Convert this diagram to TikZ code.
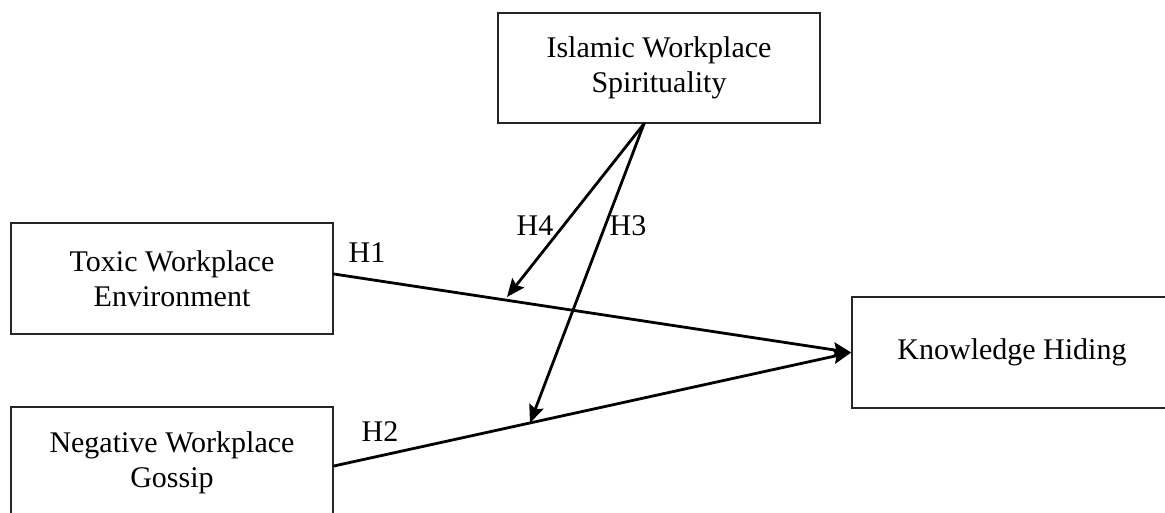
\documentclass[tikz,border=0pt]{standalone}
\usepackage{fontspec}
\setmainfont{Liberation Serif}
\usetikzlibrary{arrows.meta}
\tikzset{
  boxnode/.style={draw=black!85, line width=1.6pt, rectangle, align=center,
    font=\fontsize{30}{35}\selectfont, inner sep=0pt},
  hlabel/.style={font=\fontsize{30}{35}\selectfont, inner sep=0pt},
  conn/.style={line width=2.8pt, line cap=round},
  arr/.style={conn, -{Stealth[length=18pt,width=15pt,inset=3pt]}}
}
\begin{document}
\begin{tikzpicture}[x=1pt,y=-1pt]
\useasboundingbox (0,0) rectangle (1165,513);
\fill[white] (0,0) rectangle (1165,513);
\clip (0,0) rectangle (1165,513);
\node[boxnode, minimum width=322pt, minimum height=110pt] (isl) at (659,68) {Islamic Workplace\\Spirituality};
\node[boxnode, minimum width=322pt, minimum height=111pt] (tox) at (172,278.5) {Toxic Workplace\\Environment};
\node[boxnode, minimum width=322pt, minimum height=112pt] (neg) at (172,463) {Negative Workplace\\Gossip};
\node[boxnode, minimum width=320pt, minimum height=111pt] (kh) at (1012,352.5) {Knowledge Hiding};
\coordinate (src) at ([xshift=-15pt]isl.south);
\coordinate (t1) at ([yshift=4.5pt]tox.east);
\coordinate (t2) at ([yshift=-3pt]neg.east);
\coordinate (p4) at (507,297);
\coordinate (p3) at (530,423);
\draw[arr] (t1) -- (kh.west);
\draw[arr] (t2) -- (kh.west);
\draw[arr] (src) -- (p4);
\draw[arr] (src) -- (p3);
\node[hlabel] (h1) at (367,253) {H1};
\node[hlabel] (h2) at (380,432) {H2};
\node[hlabel] (h4) at (535,226) {H4};
\node[hlabel] (h3) at (628,226) {H3};
\end{tikzpicture}
\end{document}
